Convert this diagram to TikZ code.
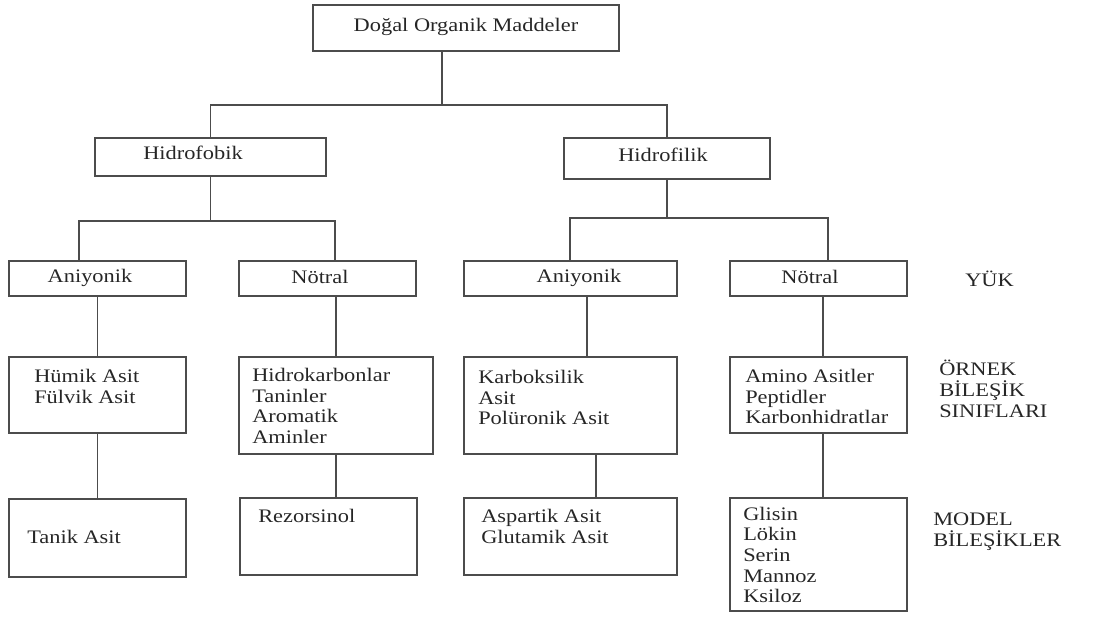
\documentclass[tikz,border=0pt]{standalone}
\usepackage{fontspec}
\setmainfont{Liberation Serif}[FakeStretch=1.17]
\usepackage{tikz}

\tikzset{
  box/.style={draw=black!70, line width=0.8pt, inner sep=0pt, outer sep=0pt},
  conn/.style={draw=black!70, line width=0.8pt},
  txt/.style={inner sep=0pt, align=left, text=black!85, font=\fontsize{13.6}{14.7}\selectfont},
}

\begin{document}
\begin{tikzpicture}[x=0.025cm, y=-0.025cm]
            \useasboundingbox (0,0) rectangle (1110,640);

            % boxes
            \node[box, minimum width=7.65cm,  minimum height=1.15cm]  (root) at (466,28) {};
            \node[box, minimum width=5.775cm, minimum height=0.95cm]  (hfob) at (210.5,157) {};
            \node[box, minimum width=5.15cm,  minimum height=1.025cm] (hfil) at (667,158.5) {};

            \node[box, minimum width=4.425cm, minimum height=0.875cm] (an1) at (97.5,278.5) {};
            \node[box, minimum width=4.425cm, minimum height=0.875cm] (no1) at (327.5,278.5) {};
            \node[box, minimum width=5.325cm, minimum height=0.875cm] (an2) at (570.5,278.5) {};
            \node[box, minimum width=4.425cm, minimum height=0.875cm] (no2) at (818.5,278.5) {};

            \node[box, minimum width=4.425cm, minimum height=1.9cm]   (hu) at (97.5,395) {};
            \node[box, minimum width=4.85cm,  minimum height=2.425cm] (hk) at (336,405.5) {};
            \node[box, minimum width=5.325cm, minimum height=2.425cm] (ka) at (570.5,405.5) {};
            \node[box, minimum width=4.425cm, minimum height=1.9cm]   (am) at (818.5,395) {};

            \node[box, minimum width=4.425cm, minimum height=1.95cm]  (ta) at (97.5,538) {};
            \node[box, minimum width=4.425cm, minimum height=1.925cm] (re) at (328.5,536.5) {};
            \node[box, minimum width=5.325cm, minimum height=1.925cm] (asp) at (570.5,536.5) {};
            \node[box, minimum width=4.425cm, minimum height=2.825cm] (gl) at (818.5,554.5) {};

            % texts
            \node[txt] (troot) at (466,27) {Doğal Organik Maddeler};
            \node[txt] (thfob) at (193,153) {Hidrofobik};
            \node[txt] (thfil) at (663,155) {Hidrofilik};
            \node[txt] (tan1) at (90,278) {Aniyonik};
            \node[txt] (tno1) at (320,277) {Nötral};
            \node[txt] (tan2) at (579,278) {Aniyonik};
            \node[txt] (tno2) at (810,277) {Nötral};
            \node[txt, anchor=west] (thu) at (34,386.5) {Hümik Asit\\Fülvik Asit};
            \node[txt, anchor=west] (thk) at (252,406) {Hidrokarbonlar\\Taninler\\Aromatik\\Aminler};
            \node[txt, anchor=west] (tka) at (478,397.5) {Karboksilik\\Asit\\Polüronik Asit};
            \node[txt, anchor=west] (tam) at (745,396.5) {Amino Asitler\\Peptidler\\Karbonhidratlar};
            \node[txt, anchor=west] (tta) at (27,537) {Tanik Asit};
            \node[txt, anchor=west] (tre) at (258,516) {Rezorsinol};
            \node[txt, anchor=west] (tasp) at (481,526.5) {Aspartik Asit\\Glutamik Asit};
            \node[txt, anchor=west] (tgl) at (743,555) {Glisin\\Lökin\\Serin\\Mannoz\\Ksiloz};

            \node[txt, anchor=west] (yuk) at (965,279) {YÜK};
            \node[txt, anchor=west] (ornek) at (939,389) {ÖRNEK\\BİLEŞİK\\SINIFLARI};
            \node[txt, anchor=west] (model) at (933,531.5) {MODEL\\BİLEŞİKLER};

            % connectors
            \coordinate (r0) at (442,105);
            \draw[conn] (r0 |- root.south) -- (r0);
            \draw[conn] (hfob.north) |- (r0) -| (hfil.north);

            \coordinate (f1) at (79,221);
            \coordinate (f2) at (335,221);
            \draw[conn] (hfob.south) -- (hfob.south |- f1);
            \draw[conn] (f1 |- an1.north) -- (f1) -- (f2) -- (f2 |- no1.north);

            \coordinate (l1) at (570,218);
            \coordinate (l2) at (828,218);
            \draw[conn] (hfil.south) -- (hfil.south |- l1);
            \draw[conn] (l1 |- an2.north) -- (l1) -- (l2) -- (l2 |- no2.north);

            \coordinate (s3) at (587,0);
            \coordinate (s4) at (823,0);
            \coordinate (s7) at (596,0);
            \draw[conn] (an1.south) -- (hu.north);
            \draw[conn] (hk.north) -- (hk.north |- no1.south);
            \draw[conn] (s3 |- an2.south) -- (s3 |- ka.north);
            \draw[conn] (s4 |- no2.south) -- (s4 |- am.north);

            \draw[conn] (hu.south) -- (ta.north);
            \draw[conn] (hk.south) -- (hk.south |- re.north);
            \draw[conn] (s7 |- ka.south) -- (s7 |- asp.north);
            \draw[conn] (s4 |- am.south) -- (s4 |- gl.north);

        \end{tikzpicture}
\end{document}
